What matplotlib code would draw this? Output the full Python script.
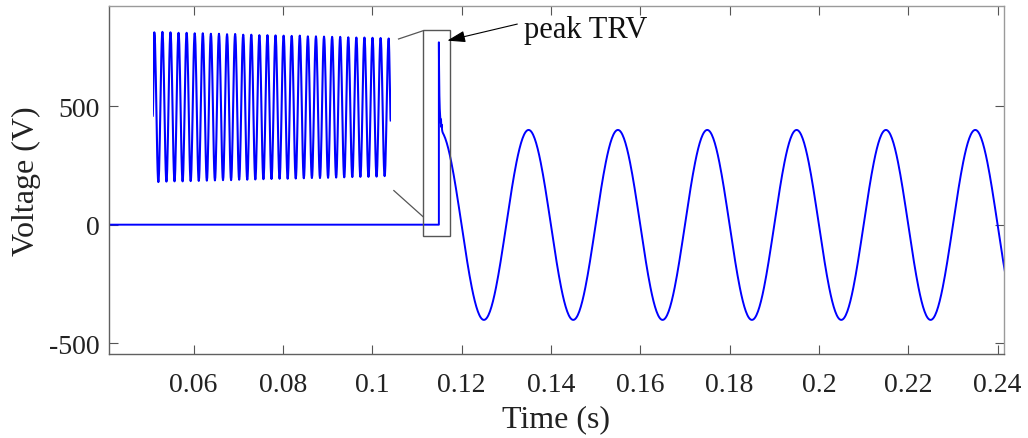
import numpy as np
import matplotlib
matplotlib.use('Agg')
import matplotlib.pyplot as plt
from matplotlib.patches import Rectangle

# ---------------- data ----------------
# flat pre-interruption part (V)
pre_t = [0.0411, 0.11492]
pre_v = [0.0, 0.0]
# TRV spike and its fast decay (s, V)
spike_t = [0.11492, 0.11492, 0.11494, 0.11498, 0.11504, 0.11512, 0.11522,
           0.11532, 0.11540, 0.11548, 0.11556, 0.11564, 0.11572]
spike_v = [0.0, 770.0, 700.0, 620.0, 545.0, 490.0, 455.0, 430.0, 445.0,
           412.0, 422.0, 400.0, 392.0]
# 50 Hz recovery voltage: successive extrema (s, V)
ext_t = [0.115, 0.125, 0.135, 0.145, 0.155, 0.165, 0.175, 0.185, 0.195,
         0.205, 0.215, 0.225, 0.235, 0.245]
ext_v = [400, -402, 400, -402, 400, -402, 400, -402, 400, -402, 400, -402,
         400, -402]

# inset: zoomed TRV oscillation, extrema in V (same scale as main axis)
inset_start_v = 460
inset_peaks = [812, 814, 812, 810, 810, 808, 808, 806, 806, 804, 805, 802,
               802, 800, 800, 799, 798, 797, 798, 795, 795, 794, 793, 793,
               791, 790, 790, 789, 788, 786]
inset_troughs = [180, 182, 183, 183, 184, 185, 186, 187, 188, 188, 190, 190,
                 191, 192, 193, 194, 194, 195, 196, 197, 197, 198, 199, 200,
                 201, 202, 202, 203, 205]
inset_end_v = 440

xticks = [0.06, 0.08, 0.10, 0.12, 0.14, 0.16, 0.18, 0.20, 0.22, 0.24]
xticklabels = ['0.06', '0.08', '0.1', '0.12', '0.14', '0.16', '0.18', '0.2',
               '0.22', '0.24']
yticks = [-500, 0, 500]
yticklabels = ['-500', '0', '500']

zoom_box = dict(t0=0.11142, t1=0.11738, v0=-49, v1=823)


def cos_path(ts, vs, n=30):
    out_t, out_v = [ts[0]], [vs[0]]
    for i in range(len(ts) - 1):
        s = np.linspace(0, 1, n)[1:]
        out_t.extend(ts[i] + (ts[i + 1] - ts[i]) * s)
        out_v.extend(vs[i] + (vs[i + 1] - vs[i]) * (1 - np.cos(np.pi * s)) / 2)
    return np.array(out_t), np.array(out_v)


plt.rcParams['font.family'] = ['Liberation Serif', 'DejaVu Serif']
plt.rcParams['mathtext.fontset'] = 'stix'

W, H = 1028, 439
fig = plt.figure(figsize=(W / 100, H / 100), dpi=100)
ax = fig.add_axes([109.3 / W, 1 - 355 / H, (1003.5 - 109.3) / W, (355 - 7.3) / H])

blue = (0, 0, 1)
st, sv = cos_path(ext_t, ext_v, n=60)
mask = st >= spike_t[-1]
t_all = np.concatenate([pre_t, spike_t, st[mask]])
v_all = np.concatenate([pre_v, spike_v, sv[mask]])
ax.plot(t_all, v_all, color=blue, lw=1.4)

ax.set_xlim(0.04114, 0.24132)
ax.set_ylim(-546, 922)
ax.set_xticks(xticks)
ax.set_xticklabels(xticklabels)
ax.set_yticks(yticks)
ax.set_yticklabels(yticklabels)
ax.tick_params(direction='in', length=6.5, width=0.8, colors='#555555',
               labelcolor='#222222', labelsize=20, top=True, right=True)
ax.tick_params(axis='x', pad=13)
ax.tick_params(axis='y', pad=7)
for side in ['left', 'bottom']:
    ax.spines[side].set_color('#606060')
for side in ['top', 'right']:
    ax.spines[side].set_color('#9a9a9a')
for sp in ax.spines.values():
    sp.set_linewidth(1.0)
ax.set_xlabel('Time (s)', fontsize=23, color='#222222', labelpad=5)
ax.set_ylabel('Voltage (V)', fontsize=23, color='#222222', labelpad=6)

# zoom box around the spike
zb = zoom_box
ax.add_patch(Rectangle((zb['t0'], zb['v0']), zb['t1'] - zb['t0'],
                       zb['v1'] - zb['v0'], fill=False, edgecolor='#555555',
                       lw=1.0, zorder=3))
# connector lines from inset to zoom box
ax.plot([0.10589, zb['t0']], [784, 819], color='#555555', lw=0.9)
ax.plot([0.10484, zb['t0']], [144, 33], color='#555555', lw=0.9)

# peak TRV annotation
ax.annotate('', xy=(0.1168, 777), xytext=(0.13248, 847),
            arrowprops=dict(arrowstyle='-|>,head_length=1.1,head_width=0.35',
                            color='black', lw=0.8, shrinkA=0, shrinkB=0))
ax.text(0.13389, 826, 'peak TRV', fontsize=22, ha='left', va='center',
        color='#111111')

# inset with the zoomed oscillation
n_pk = len(inset_peaks)
it = [0.0]
iv = [inset_start_v]
for k in range(n_pk):
    it.append(0.2 + k)
    iv.append(inset_peaks[k])
    if k < len(inset_troughs):
        it.append(0.7 + k)
        iv.append(inset_troughs[k])
it.append(0.2 + n_pk - 1 + 0.25)
iv.append(inset_end_v)
tt, vv = cos_path(it, iv, n=12)

iax = fig.add_axes([152.7 / W, 1 - 355 / H, 238 / W, (355 - 7.3) / H])
iax.plot(tt, vv, color=blue, lw=1.5)
iax.set_xlim(0, it[-1])
iax.set_ylim(-546, 922)
iax.axis('off')

fig.savefig('out.png', dpi=100)
